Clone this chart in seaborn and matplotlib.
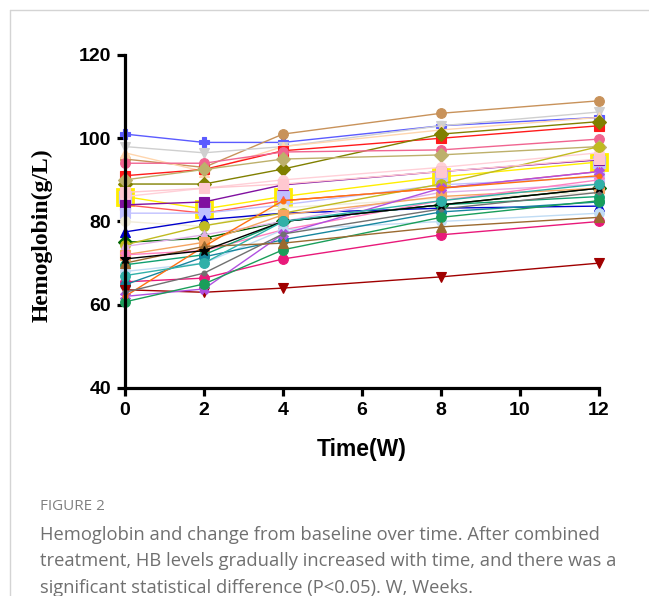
import matplotlib
matplotlib.use("Agg")
import matplotlib.pyplot as plt
from matplotlib.lines import Line2D
import seaborn as sns
import pandas as pd

weeks = [0, 2, 4, 8, 12]

# one row per patient: hemoglobin (g/L) at weeks 0, 2, 4, 8, 12
hb_values = {
    "p01": [101, 99, 99, 103, 105],
    "p02": [95, 93, 101, 106, 109],
    "p03": [98, 96.5, 98, 103, 106.3],
    "p04": [96.5, 92, 98, 102, 105],
    "p05": [91, 92.5, 97, 100, 103],
    "p06": [89, 89, 92.6, 101, 104],
    "p07": [94, 94, 96.7, 97.2, 99.8],
    "p08": [90, 92.5, 95, 96, 98],
    "p09": [86, 83, 86, 90.7, 94.3],
    "p10": [86, 88, 90, 93, 96.5],
    "p11": [84, 82, 85, 88, 92],
    "p12": [84, 84.7, 88.8, 92, 94.8],
    "p13": [82, 82, 84, 88.8, 90.7],
    "p14": [80, 78.8, 83.3, 85.6, 87],
    "p15": [77.5, 80.4, 82, 83.2, 83.7],
    "p16": [75, 76, 80, 84, 88],
    "p17": [74.4, 79, 82, 89, 98],
    "p18": [74, 76.8, 80, 87, 89],
    "p19": [72, 75, 81.6, 86, 88],
    "p20": [72, 73, 78, 85, 90],
    "p21": [69.6, 72, 80, 84, 86],
    "p22": [68, 70, 78, 80, 82],
    "p23": [65.5, 66.4, 71, 76.8, 80],
    "p24": [64.8, 71.5, 75.6, 82.3, 84.7],
    "p25": [63.6, 63, 64, 66.7, 70],
    "p26": [62, 63.8, 77, 88, 92],
    "p27": [60.7, 65, 73.2, 81, 85],
    "p28": [62, 74, 85, 88, 91],
    "p29": [63, 67.6, 77, 83, 87],
    "p30": [70, 74, 74.8, 78.7, 81],
    "p31": [71, 73, 80, 84, 88],
    "p32": [67, 70, 80, 85, 89],
    "p33": [87, 88, 89, 92, 95],
}

colors = {
    "p01": "#5b5bff", "p02": "#c8925a", "p03": "#cfcfcf", "p04": "#ffd6ae",
    "p05": "#ff1a1a", "p06": "#808000", "p07": "#f06490", "p08": "#bdb06b",
    "p09": "#ffee00", "p10": "#ffd0d8", "p11": "#ff5a5a", "p12": "#8010a0",
    "p13": "#c0c0ff", "p14": "#f0ecd8", "p15": "#0000cd", "p16": "#006400",
    "p17": "#c0bb20", "p18": "#e0b0e8", "p19": "#f4a460", "p20": "#ff80c0",
    "p21": "#10a070", "p22": "#c0dcf4", "p23": "#e8197a", "p24": "#17869e",
    "p25": "#a00000", "p26": "#b050e0", "p27": "#1a9e5a", "p28": "#ff7010",
    "p29": "#707070", "p30": "#9b6a30", "p31": "#000000", "p32": "#30b0a8",
    "p33": "#ffc8d0",
}

markers = {
    "p01": "P", "p02": "o", "p03": "v", "p04": "^", "p05": "s", "p06": "D",
    "p07": "o", "p08": "D", "p09": "s", "p10": "o", "p11": "^", "p12": "s",
    "p13": "s", "p14": "o", "p15": "^", "p16": "D", "p17": "o", "p18": "^",
    "p19": "s", "p20": "X", "p21": "o", "p22": "o", "p23": "o", "p24": "o",
    "p25": "v", "p26": "X", "p27": "o", "p28": ".", "p29": ".", "p30": "^",
    "p31": "*", "p32": "o", "p33": "s",
}

rows = []
for pid, vals in hb_values.items():
    for w, v in zip(weeks, vals):
        rows.append({"pid": pid, "week": w, "hb": v})
df = pd.DataFrame(rows)

sns.set_style("ticks", {"axes.edgecolor": "black", "xtick.color": "black",
                        "ytick.color": "black", "text.color": "black",
                        "axes.labelcolor": "black"})
plt.rcParams["font.family"] = ["Liberation Sans", "DejaVu Sans"]

fig = plt.figure(figsize=(6.49, 5.96), dpi=100)
ax = fig.add_axes([125 / 649, 1 - 388 / 596, 474 / 649, 333 / 596])

for pid in hb_values:
    sub = df[df["pid"] == pid]
    c = colors[pid]
    face = c
    size = 7
    mew = 0.8
    if pid == "p09":
        face = "#c0c0ff"
        size = 11
        mew = 2
    sns.lineplot(data=sub, x="week", y="hb", ax=ax, color=c, lw=1.0,
                 marker=markers[pid], markersize=size, markerfacecolor=face,
                 markeredgecolor=c, markeredgewidth=mew, clip_on=False,
                 legend=False)

ax.set_xlim(0, 12)
ax.set_ylim(40, 120)
ax.set_xticks([0, 2, 4, 6, 8, 10, 12])
ax.set_yticks([40, 60, 80, 100, 120])
for side in ["top", "right"]:
    ax.spines[side].set_visible(False)
for side in ["left", "bottom"]:
    ax.spines[side].set_linewidth(2.3)
ax.tick_params(axis="both", width=2.3, length=6, labelsize=14, pad=4,
               colors="black")
for lab in ax.get_xticklabels() + ax.get_yticklabels():
    lab.set_fontweight("bold")

ax.set_xlabel("Time(W)", fontsize=16.5, fontweight="bold", labelpad=14)
ax.set_ylabel("Hemoglobin(g/L)", fontsize=17, fontweight="bold",
              family="Liberation Serif")
ax.yaxis.set_label_coords(-0.152, 0.459)

# frame lines and caption
fig.add_artist(Line2D([10 / 649, 1], [1 - 10 / 596, 1 - 10 / 596],
                      color="#d4d4d4", lw=1))
fig.add_artist(Line2D([10 / 649, 10 / 649], [0, 1 - 10 / 596],
                      color="#d4d4d4", lw=1))
fig.text(40 / 649, 1 - 507 / 596, "FIGURE 2", fontsize=11, color="#808080",
         family="Open Sans", va="center")
caption = ["Hemoglobin and change from baseline over time. After combined",
           "treatment, HB levels gradually increased with time, and there was a",
           "significant statistical difference (P<0.05). W, Weeks."]
for i, line in enumerate(caption):
    fig.text(40 / 649, 1 - (535 + 26.5 * i) / 596, line, fontsize=13.2,
             color="#707070", family="Open Sans", va="center")

fig.savefig("out.png", dpi=100)
